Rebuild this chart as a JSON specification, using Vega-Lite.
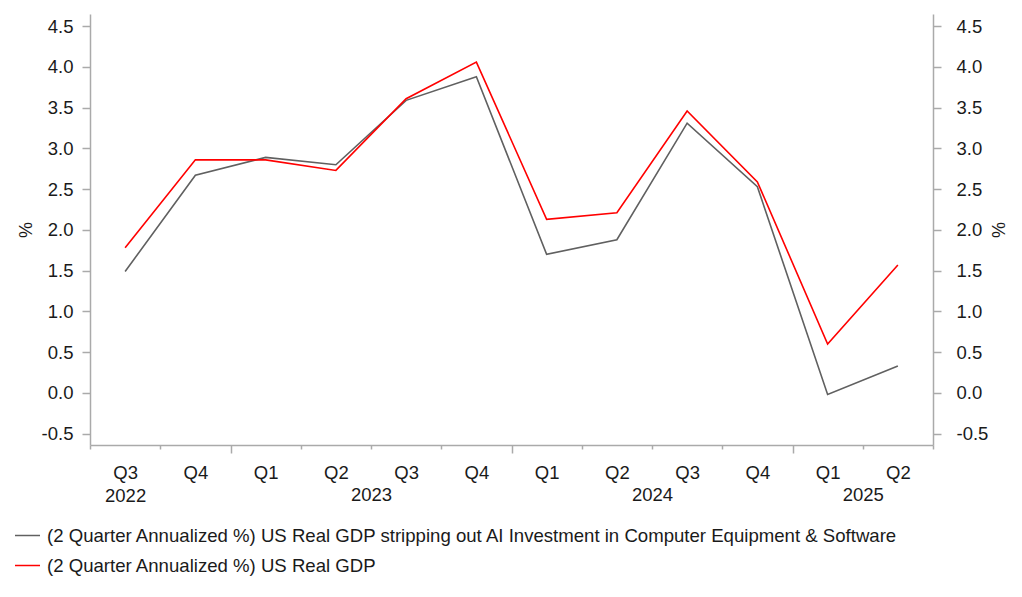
{
  "$schema": "https://vega.github.io/schema/vega-lite/v6.json",
  "width": 843,
  "height": 431,
  "autosize": {"type": "none"},
  "padding": {"left": 90, "top": 14, "right": 89, "bottom": 152},
  "background": "white",
  "data": {
    "values": [
      {"i": 0, "quarter": "Q3 2022", "series": "(2 Quarter Annualized %) US Real GDP stripping out AI Investment in Computer Equipment & Software", "value": 1.49},
      {"i": 1, "quarter": "Q4 2022", "series": "(2 Quarter Annualized %) US Real GDP stripping out AI Investment in Computer Equipment & Software", "value": 2.67},
      {"i": 2, "quarter": "Q1 2023", "series": "(2 Quarter Annualized %) US Real GDP stripping out AI Investment in Computer Equipment & Software", "value": 2.89},
      {"i": 3, "quarter": "Q2 2023", "series": "(2 Quarter Annualized %) US Real GDP stripping out AI Investment in Computer Equipment & Software", "value": 2.80},
      {"i": 4, "quarter": "Q3 2023", "series": "(2 Quarter Annualized %) US Real GDP stripping out AI Investment in Computer Equipment & Software", "value": 3.59},
      {"i": 5, "quarter": "Q4 2023", "series": "(2 Quarter Annualized %) US Real GDP stripping out AI Investment in Computer Equipment & Software", "value": 3.88},
      {"i": 6, "quarter": "Q1 2024", "series": "(2 Quarter Annualized %) US Real GDP stripping out AI Investment in Computer Equipment & Software", "value": 1.70},
      {"i": 7, "quarter": "Q2 2024", "series": "(2 Quarter Annualized %) US Real GDP stripping out AI Investment in Computer Equipment & Software", "value": 1.88},
      {"i": 8, "quarter": "Q3 2024", "series": "(2 Quarter Annualized %) US Real GDP stripping out AI Investment in Computer Equipment & Software", "value": 3.31},
      {"i": 9, "quarter": "Q4 2024", "series": "(2 Quarter Annualized %) US Real GDP stripping out AI Investment in Computer Equipment & Software", "value": 2.53},
      {"i": 10, "quarter": "Q1 2025", "series": "(2 Quarter Annualized %) US Real GDP stripping out AI Investment in Computer Equipment & Software", "value": -0.02},
      {"i": 11, "quarter": "Q2 2025", "series": "(2 Quarter Annualized %) US Real GDP stripping out AI Investment in Computer Equipment & Software", "value": 0.33},
      {"i": 0, "quarter": "Q3 2022", "series": "(2 Quarter Annualized %) US Real GDP", "value": 1.78},
      {"i": 1, "quarter": "Q4 2022", "series": "(2 Quarter Annualized %) US Real GDP", "value": 2.86},
      {"i": 2, "quarter": "Q1 2023", "series": "(2 Quarter Annualized %) US Real GDP", "value": 2.86},
      {"i": 3, "quarter": "Q2 2023", "series": "(2 Quarter Annualized %) US Real GDP", "value": 2.73},
      {"i": 4, "quarter": "Q3 2023", "series": "(2 Quarter Annualized %) US Real GDP", "value": 3.61},
      {"i": 5, "quarter": "Q4 2023", "series": "(2 Quarter Annualized %) US Real GDP", "value": 4.06},
      {"i": 6, "quarter": "Q1 2024", "series": "(2 Quarter Annualized %) US Real GDP", "value": 2.13},
      {"i": 7, "quarter": "Q2 2024", "series": "(2 Quarter Annualized %) US Real GDP", "value": 2.21},
      {"i": 8, "quarter": "Q3 2024", "series": "(2 Quarter Annualized %) US Real GDP", "value": 3.46},
      {"i": 9, "quarter": "Q4 2024", "series": "(2 Quarter Annualized %) US Real GDP", "value": 2.59},
      {"i": 10, "quarter": "Q1 2025", "series": "(2 Quarter Annualized %) US Real GDP", "value": 0.60},
      {"i": 11, "quarter": "Q2 2025", "series": "(2 Quarter Annualized %) US Real GDP", "value": 1.57}
    ]
  },
  "encoding": {
    "x": {
      "field": "i",
      "type": "quantitative",
      "scale": {"domain": [-0.5, 11.5], "nice": false, "zero": false},
      "axis": {
        "title": null,
        "grid": false,
        "values": [-0.5, 0, 0.5, 1, 1.5, 2, 2.5, 3, 3.5, 4, 4.5, 5, 5.5, 6, 6.5, 7, 7.5, 8, 8.5, 9, 9.5, 10, 10.5, 11, 11.5],
        "domainColor": "#aaaaaa",
        "domainWidth": 1.5,
        "tickColor": "#aaaaaa",
        "tickWidth": 1.5,
        "tickOpacity": {"condition": {"test": "datum.value % 1 != 0", "value": 1}, "value": 0},
        "tickSize": {"condition": {"test": "indexof([1.5, 5.5, 9.5], datum.value) >= 0", "value": 8}, "value": 4},
        "labelPadding": {"condition": {"test": "datum.value % 1 != 0", "value": 36}, "value": 14},
        "labelExpr": "datum.value == 0 ? ['Q3', '2022'] : datum.value % 1 == 0 ? ['Q1','Q2','Q3','Q4'][(datum.value + 2) % 4] : datum.value == 3.5 ? '2023' : datum.value == 7.5 ? '2024' : datum.value == 10.5 ? '2025' : ''",
        "labelOverlap": false,
        "labelFlush": false,
        "labelBound": false,
        "labelBaseline": "top",
        "labelLineHeight": 23,
        "labelFont": "Liberation Sans",
        "labelFontSize": 18.5,
        "labelColor": "#1a1a1a",
        "labelAngle": 0
      }
    },
    "color": {
      "field": "series",
      "type": "nominal",
      "scale": {
        "domain": ["(2 Quarter Annualized %) US Real GDP stripping out AI Investment in Computer Equipment & Software", "(2 Quarter Annualized %) US Real GDP"],
        "range": ["#606060", "#ff0000"]
      },
      "legend": {
        "title": null,
        "orient": "none",
        "legendX": -76,
        "legendY": 508,
        "direction": "vertical",
        "padding": 0,
        "symbolType": "stroke",
        "symbolSize": 625,
        "symbolStrokeWidth": 1.5,
        "labelFont": "Liberation Sans",
        "labelFontSize": 18.6,
        "labelColor": "#1a1a1a",
        "labelLimit": 1000,
        "labelOffset": 6,
        "rowPadding": 6
      }
    }
  },
  "layer": [
    {
      "transform": [{"filter": "datum.series != '(2 Quarter Annualized %) US Real GDP'"}],
      "mark": {"type": "line", "strokeWidth": 1.6},
      "encoding": {
        "y": {
          "field": "value",
          "type": "quantitative",
          "scale": {"domain": [-0.64, 4.65], "nice": false, "zero": false},
          "axis": {
            "title": "%",
            "orient": "left",
            "grid": false,
            "values": [-0.5, 0, 0.5, 1, 1.5, 2, 2.5, 3, 3.5, 4, 4.5],
            "labelExpr": "datum.value < 0 ? '-' + format(-datum.value, '.1f') : format(datum.value, '.1f')",
            "domainColor": "#aaaaaa",
            "domainWidth": 1.5,
            "tickColor": "#aaaaaa",
            "tickWidth": 1.5,
            "tickSize": 8,
            "labelPadding": 9,
            "labelFont": "Liberation Sans",
            "labelFontSize": 18.5,
            "labelColor": "#1a1a1a",
            "titleFont": "Liberation Sans",
            "titleFontSize": 18,
            "titleFontWeight": "normal",
            "titleColor": "#1a1a1a",
            "titlePadding": 6
          }
        }
      }
    },
    {
      "transform": [{"filter": "datum.series == '(2 Quarter Annualized %) US Real GDP'"}],
      "mark": {"type": "line", "strokeWidth": 1.6},
      "encoding": {
        "y": {
          "field": "value",
          "type": "quantitative",
          "scale": {"domain": [-0.64, 4.65], "nice": false, "zero": false},
          "axis": {
            "title": "%",
            "orient": "right",
            "grid": false,
            "values": [-0.5, 0, 0.5, 1, 1.5, 2, 2.5, 3, 3.5, 4, 4.5],
            "labelExpr": "datum.value < 0 ? '-' + format(-datum.value, '.1f') : format(datum.value, '.1f')",
            "domainColor": "#aaaaaa",
            "domainWidth": 1.5,
            "tickColor": "#aaaaaa",
            "tickWidth": 1.5,
            "tickSize": 8,
            "labelPadding": 15,
            "labelFont": "Liberation Sans",
            "labelFontSize": 18.5,
            "labelColor": "#1a1a1a",
            "titleFont": "Liberation Sans",
            "titleFontSize": 18,
            "titleFontWeight": "normal",
            "titleColor": "#1a1a1a",
            "titlePadding": 0
          }
        }
      }
    }
  ],
  "resolve": {"scale": {"y": "independent"}, "axis": {"y": "independent"}},
  "config": {"view": {"stroke": null}}
}
